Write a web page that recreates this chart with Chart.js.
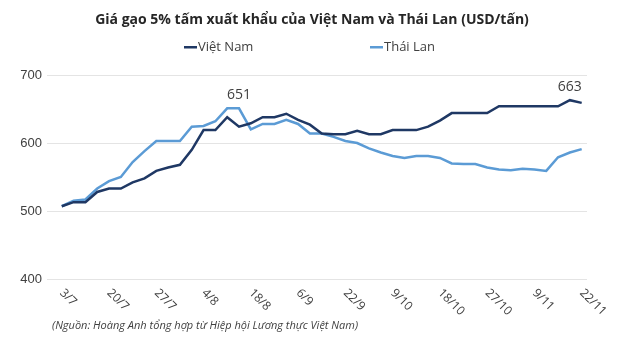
<!DOCTYPE html>
<html>
<head>
<meta charset="utf-8">
<script src="https://cdn.jsdelivr.net/npm/chart.js@4.4.1/dist/chart.umd.min.js"></script>
<style>
  html, body { margin: 0; padding: 0; background: #fff; }
  #chart { display: block; }
</style>
</head>
<body>
<canvas id="chart" width="617" height="351"></canvas>
<script>
// Data (USD/tấn), one point per report date
const tickLabels = ['3/7', '20/7', '27/7', '4/8', '18/8', '6/9', '22/9', '9/10', '18/10', '27/10', '9/11', '22/11'];
const vietnam = [507, 513, 513, 528, 533, 533, 542, 548, 559, 564, 568, 590, 619, 619, 638, 624, 629, 638, 638, 643, 634, 627, 614,
    613, 613, 618, 613, 613, 619, 619, 619, 624, 633, 644, 644, 644, 644, 654, 654, 654, 654, 654, 654, 663, 659];
const thailand = [507, 515, 517, 533, 544, 550, 572, 588, 603, 603, 603, 624, 625, 632, 651, 651, 620, 628, 628, 634, 628, 614, 614,
    609, 603, 600, 592, 586, 581, 578, 581, 581, 578, 570, 569, 569, 564, 561, 560, 562, 561, 559, 579, 586, 591];
const yTicks = [400, 500, 600, 700];
const labelEvery = 4;
// points that carry a value label: [series, index]
const valueLabels = [[1, 15], [0, 43]];

const textColor = '#404040';
const vnColor = '#1f3864';
const thColor = '#5b9bd5';

// Title, legend, x labels, source note and value labels
const textPlugin = {
    id: 'texts',
    afterDatasetsDraw(chart) {
        const ctx = chart.ctx;
        ctx.save();
        ctx.fillStyle = textColor;
        ctx.font = '14px "Open Sans"';
        ctx.textAlign = 'center';
        ctx.textBaseline = 'middle';
        valueLabels.forEach(([d, i]) => {
            const pt = chart.getDatasetMeta(d).data[i];
            const v = chart.data.datasets[d].data[i].y;
            ctx.fillText(String(v), pt.x, pt.y - 13);
        });
        ctx.restore();
    },
    afterDraw(chart) {
        const ctx = chart.ctx;
        const xScale = chart.scales.x;
        ctx.save();
        ctx.fillStyle = '#262626';

        // title
        ctx.font = 'bold 14px "Open Sans"';
        ctx.textAlign = 'center';
        ctx.textBaseline = 'middle';
        ctx.fillText('Giá gạo 5% tấm xuất khẩu của Việt Nam và Thái Lan (USD/tấn)', 312, 20);

        // legend
        ctx.font = '13px "Open Sans"';
        ctx.textAlign = 'left';
        [[chart.data.datasets[0], 184], [chart.data.datasets[1], 370]].forEach(([ds, x]) => {
            ctx.fillStyle = ds.borderColor;
            ctx.fillRect(x, 46, 13, 2.5);
            ctx.fillStyle = textColor;
            ctx.fillText(ds.label, x + 14, 47);
        });

        // rotated x labels
        ctx.font = '12px "Open Sans"';
        tickLabels.forEach((t, k) => {
            const x = xScale.getPixelForValue(k * labelEvery);
            ctx.save();
            ctx.translate(x, 291);
            ctx.rotate(Math.PI / 4);
            ctx.textAlign = 'left';
            ctx.textBaseline = 'middle';
            ctx.fillText(t, 0, 0);
            ctx.restore();
        });

        // source note
        ctx.font = 'italic 11px "Open Sans"';
        ctx.textAlign = 'left';
        ctx.textBaseline = 'middle';
        ctx.fillText('(Nguồn: Hoàng Anh tổng hợp từ Hiệp hội Lương thực Việt Nam)', 52, 326);
        ctx.restore();
    }
};

const ctx = document.getElementById('chart').getContext('2d');
const chart = new Chart(ctx, {
    type: 'line',
    data: {
        datasets: [{
            label: 'Việt Nam',
            data: vietnam.map((v, i) => ({ x: i, y: v })),
            borderColor: vnColor,
            borderWidth: 2.5,
            pointRadius: 0,
            tension: 0
        }, {
            label: 'Thái Lan',
            data: thailand.map((v, i) => ({ x: i, y: v })),
            borderColor: thColor,
            borderWidth: 2.5,
            pointRadius: 0,
            tension: 0
        }]
    },
    options: {
        responsive: false,
        animation: false,
        devicePixelRatio: 1,
        layout: {
            padding: { top: 75, right: 30, bottom: 72, left: 0 }
        },
        plugins: {
            legend: { display: false },
            tooltip: { enabled: false },
            title: { display: false }
        },
        scales: {
            x: {
                type: 'linear',
                display: false,
                min: -1.25,
                max: vietnam.length - 1 + 0.45
            },
            y: {
                min: yTicks[0],
                max: yTicks[yTicks.length - 1],
                afterBuildTicks: scale => {
                    scale.ticks = yTicks.map(v => ({ value: v }));
                },
                afterFit: scale => {
                    scale.width = 47;
                },
                border: { display: false },
                grid: {
                    color: '#e4e4e4',
                    lineWidth: 1,
                    drawTicks: false
                },
                ticks: {
                    padding: 5,
                    color: textColor,
                    font: { family: '"Liberation Sans"', size: 13 }
                }
            }
        }
    },
    plugins: [textPlugin]
});
</script>
</body>
</html>
